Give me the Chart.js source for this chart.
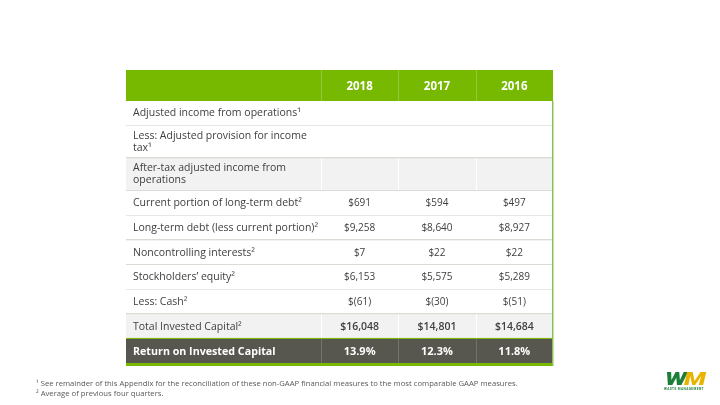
<!DOCTYPE html>
<html>
<head>
<meta charset="utf-8">
<script src="https://cdn.jsdelivr.net/npm/chart.js@4.4.1/dist/chart.umd.min.js"></script>
<style>
    html, body { margin: 0; padding: 0; background: #fff; }
    #wrap { position: relative; width: 720px; height: 405px; overflow: hidden; }
    #roicTable { position: absolute; left: 0; top: 0; }
    .note { position: absolute; left: 36px; font: 7.7px "Open Sans", sans-serif; color: #595959; white-space: nowrap; }
    #logo { position: absolute; left: 659px; top: 370px; width: 50px; text-align: center; }
    #logo .wm { font: italic 900 19px Roboto, sans-serif; letter-spacing: -2px; line-height: 17px; transform: scaleX(1.35); }
    #logo .w { color: #1b7f3a; }
    #logo .m { color: #e8b400; }
    #logo .sub { font: bold 3.2px Roboto, sans-serif; color: #1b7f3a; letter-spacing: 0.4px; }
</style>
</head>
<body>
<div id="wrap">
    <canvas id="roicTable" width="720" height="405"></canvas>
    <div class="note" style="top:378px">¹ See remainder of this Appendix for the reconciliation of these non-GAAP financial measures to the most comparable GAAP measures.</div>
    <div class="note" style="top:388px">² Average of previous four quarters.</div>
    <div id="logo"><div class="wm"><span class="w">W</span><span class="m">M</span></div><div class="sub">WASTE MANAGEMENT</div></div>
</div>
<script>
// Return on Invested Capital table

const years = ['2018', '2017', '2016'];
const rowLabels = [
    'Adjusted income from operations¹',
    'Less: Adjusted provision for income\ntax¹',
    'After-tax adjusted income from\noperations',
    'Current portion of long-term debt²',
    'Long-term debt (less current portion)²',
    'Noncontrolling interests²',
    'Stockholders’ equity²',
    'Less: Cash²',
    'Total Invested Capital²'
];
const values2018 = [null, null, null, 691, 9258, 7, 6153, -61, 16048];
const values2017 = [null, null, null, 594, 8640, 22, 5575, -30, 14801];
const values2016 = [null, null, null, 497, 8927, 22, 5289, -51, 14684];
const roicLabel = 'Return on Invested Capital';
const roicValues = [13.9, 12.3, 11.8];

const GREEN = '#76b900';
const DARK = '#58574f';
const TEXT = '#404040';
const FONT = '"Open Sans", sans-serif';

function fmtMoney(v) {
    if (v === null) return '';
    const s = Math.abs(v).toLocaleString('en-US');
    return v < 0 ? '$(' + s + ')' : '$' + s;
}

// row layout in table units (header, body rows, roic row)
const labelColWidth = 2.52;
const headerHeight = 31;
const lineHeight = 24.6;
const extraLine = 8;
const roicHeight = 24;
const bottomBar = 3;

const rows = [];
let yPos = headerHeight;
rowLabels.forEach((label, i) => {
    const lines = label.split('\n');
    const h = lineHeight + (lines.length - 1) * extraLine;
    rows.push({
        lines: lines,
        top: yPos,
        bottom: yPos + h,
        values: [values2018[i], values2017[i], values2016[i]].map(fmtMoney),
        shaded: i === 2 || i === rowLabels.length - 1,
        total: i === rowLabels.length - 1
    });
    yPos += h;
});
const roicTop = yPos;
const totalY = roicTop + roicHeight + bottomBar;
const totalX = labelColWidth + years.length;

const tablePlugin = {
    id: 'tablePlugin',
    afterDraw(chart) {
        const c = chart.ctx;
        const xs = chart.scales.x;
        const ys = chart.scales.y;
        const X = v => xs.getPixelForValue(v);
        const Y = v => ys.getPixelForValue(v);
        const colEdges = [0, labelColWidth];
        years.forEach((y, i) => colEdges.push(labelColWidth + i + 1));
        const left = X(0), right = X(totalX);

        c.save();
        // header
        c.fillStyle = GREEN;
        c.fillRect(left, Y(0), right - left, Y(headerHeight) - Y(0));
        c.strokeStyle = '#93c83e';
        c.lineWidth = 1;
        for (let i = 1; i < colEdges.length - 1; i++) {
            const x = Math.round(X(colEdges[i])) + 0.5;
            c.beginPath(); c.moveTo(x, Y(0)); c.lineTo(x, Y(headerHeight)); c.stroke();
        }
        c.fillStyle = '#fff';
        c.font = 'bold 11.5px ' + FONT;
        c.textAlign = 'center';
        c.textBaseline = 'middle';
        years.forEach((yr, i) => {
            c.fillText(yr, (X(colEdges[i + 1]) + X(colEdges[i + 2])) / 2, (Y(0) + Y(headerHeight)) / 2 + 1);
        });

        // body rows
        rows.forEach(r => {
            const t = Y(r.top), b = Y(r.bottom);
            c.fillStyle = r.shaded ? '#f2f2f2' : '#fff';
            c.fillRect(left, t, right - left, b - t);
            if (r.shaded) {
                c.strokeStyle = '#ffffff';
                c.lineWidth = 1;
                for (let i = 1; i < colEdges.length - 1; i++) {
                    const x = Math.round(X(colEdges[i])) + 0.5;
                    c.beginPath(); c.moveTo(x, t); c.lineTo(x, b); c.stroke();
                }
            }
            c.fillStyle = '#dcdcd6';
            c.fillRect(left, Math.round(b) - 1, right - left, 2);

            c.fillStyle = TEXT;
            c.font = '10.5px ' + FONT;
            c.textAlign = 'left';
            c.textBaseline = 'middle';
            if (r.lines.length === 1) {
                c.fillText(r.lines[0], left + 7, (t + b) / 2);
            } else {
                r.lines.forEach((ln, k) => c.fillText(ln, left + 7, t + 10 + k * 12));
            }
            c.textAlign = 'center';
            c.font = (r.total ? '600 10.5px ' : '10px ') + FONT;
            r.values.forEach((v, i) => {
                c.fillText(v, (X(colEdges[i + 1]) + X(colEdges[i + 2])) / 2, (t + b) / 2);
            });
        });

        // roic row
        const rt = Y(roicTop), rb = Y(roicTop + roicHeight);
        c.fillStyle = DARK;
        c.fillRect(left, rt, right - left, rb - rt);
        c.fillStyle = GREEN;
        c.fillRect(left, rt - 1, right - left, 1);
        c.fillRect(left, rb, right - left, Y(totalY) - rb);
        c.strokeStyle = '#74736b';
        c.lineWidth = 1;
        for (let i = 1; i < colEdges.length - 1; i++) {
            const x = Math.round(X(colEdges[i])) + 0.5;
            c.beginPath(); c.moveTo(x, rt); c.lineTo(x, rb); c.stroke();
        }
        c.fillStyle = '#fff';
        c.font = 'bold 10.7px ' + FONT;
        c.textAlign = 'left';
        c.fillText(roicLabel, left + 7, (rt + rb) / 2 + 1);
        c.textAlign = 'center';
        c.font = 'bold 11px ' + FONT;
        roicValues.forEach((v, i) => {
            c.fillText(v.toFixed(1) + '%', (X(colEdges[i + 1]) + X(colEdges[i + 2])) / 2, (rt + rb) / 2 + 1);
        });

        // right border
        c.fillStyle = '#8cc152';
        c.fillRect(Math.round(right) - 1, Y(headerHeight), 1.5, Y(totalY) - Y(headerHeight));
        c.restore();
    }
};

new Chart(document.getElementById('roicTable'), {
    type: 'scatter',
    data: { datasets: [{ data: [] }] },
    options: {
        responsive: false,
        animation: false,
        layout: { padding: { left: 126, right: 167, top: 70, bottom: 39 } },
        plugins: { legend: { display: false }, tooltip: { enabled: false } },
        scales: {
            x: { type: 'linear', min: 0, max: totalX, display: false },
            y: { type: 'linear', min: 0, max: totalY, reverse: true, display: false }
        }
    },
    plugins: [tablePlugin]
});
</script>
</body>
</html>
